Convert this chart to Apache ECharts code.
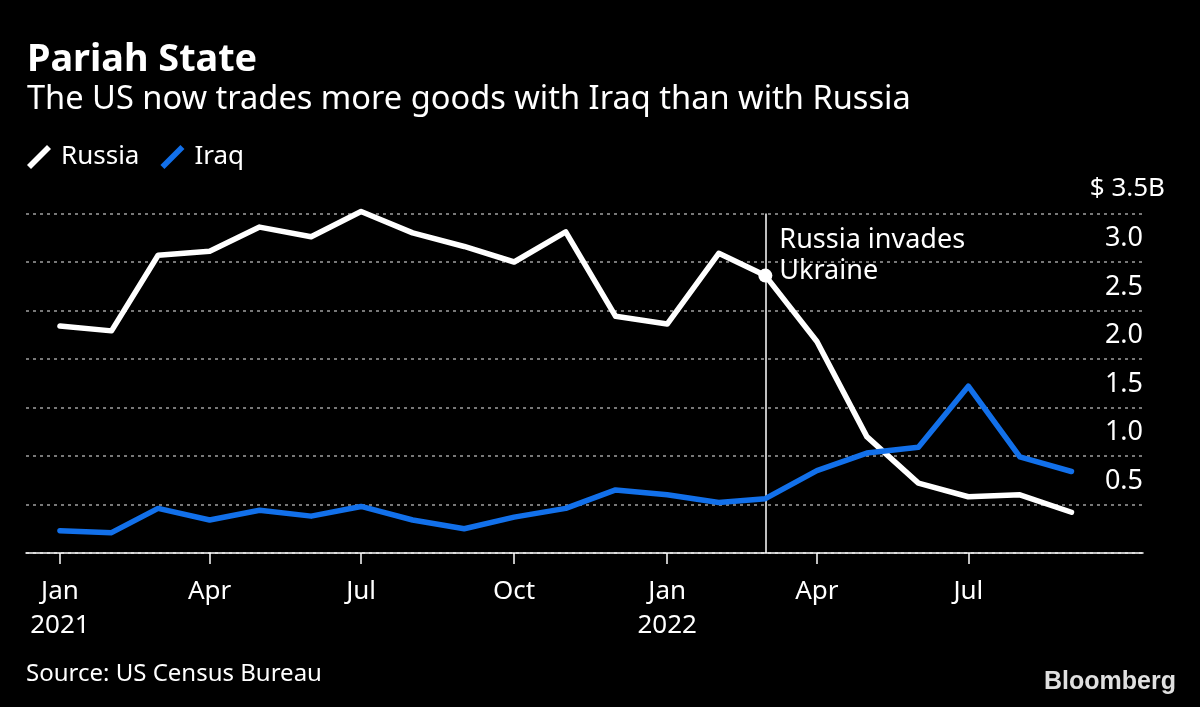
<!DOCTYPE html>
<html><head><meta charset="utf-8">
<style>html,body{margin:0;padding:0;background:#000}#c{width:1200px;height:707px}</style>
<script src="https://cdn.jsdelivr.net/npm/echarts@6/dist/echarts.min.js"></script>
</head><body><div id="c"></div>
<script>
const months = ['2021-01','2021-02','2021-03','2021-04','2021-05','2021-06','2021-07','2021-08','2021-09','2021-10','2021-11','2021-12','2022-01','2022-02','2022-03','2022-04','2022-05','2022-06','2022-07','2022-08','2022-09'];
const russia = [2.34,2.29,3.07,3.11,3.36,3.26,3.52,3.30,3.16,3.00,3.31,2.44,2.36,3.09,2.86,2.18,1.20,0.72,0.58,0.60,0.42];
const iraq = [0.23,0.21,0.46,0.34,0.44,0.38,0.48,0.34,0.25,0.37,0.46,0.65,0.60,0.52,0.56,0.85,1.03,1.09,1.72,0.99,0.84];
const xTickMonths = ['2021-01','2021-04','2021-07','2021-10','2022-01','2022-04','2022-07'];
const xTickLabels = ['Jan\n2021','Apr','Jul','Oct','Jan\n2022','Apr','Jul'];
const yTicks = [0.5,1,1.5,2,2.5,3];
const eventMonth = '2022-03';
const FONT = '"Noto Sans", sans-serif';
const toDay = m => { const [y, mo] = m.split('-').map(Number); return Math.round((Date.UTC(y, mo - 1, 1) - Date.UTC(2021, 0, 1)) / 86400000); };
const tickDays = xTickMonths.map(toDay);
const slash = 'path://M0 20 L20 0 L24 4 L4 24 Z';
const chart = echarts.init(document.getElementById('c'), null, {renderer: 'canvas'});
chart.setOption({
  animation: false,
  backgroundColor: '#000',
  textStyle: {fontFamily: FONT, color: '#fff'},
  title: [
    {text: 'Pariah State', left: 27, top: 41, padding: 0, textStyle: {color: '#fff', fontFamily: FONT, fontSize: 37.8, fontWeight: 'bold'}},
    {text: 'The US now trades more goods with Iraq than with Russia', left: 27, top: 83, padding: 0, textStyle: {color: '#fff', fontFamily: FONT, fontSize: 32.6, fontWeight: 'normal'}},
    {text: 'Source: US Census Bureau', left: 26, top: 662, padding: 0, textStyle: {color: '#fff', fontFamily: FONT, fontSize: 24, fontWeight: 'normal'}},
    {text: 'Bloomberg', left: 1044, top: 670, padding: 0, textStyle: {color: '#e0e0e0', fontFamily: '"Liberation Sans", sans-serif', fontSize: 25, fontWeight: 'bold'}}
  ],
  legend: {
    left: 27, top: 144, padding: 0, itemWidth: 24, itemHeight: 24, itemGap: 21,
    textStyle: {color: '#fff', fontFamily: FONT, fontSize: 26, padding: [0, 0, 0, 5]},
    data: [{name: 'Russia', icon: slash}, {name: 'Iraq', icon: slash}]
  },
  grid: {left: 26, right: 57, top: 213.5, bottom: 154},
  xAxis: {
    type: 'value', min: -20.4, max: 651,
    axisLine: {show: true, onZero: false, lineStyle: {color: '#fff', width: 1.5}},
    axisTick: {show: true, length: 11, customValues: tickDays, lineStyle: {color: '#fff', width: 1.5}},
    axisLabel: {
      show: true, customValues: tickDays, hideOverlap: false, margin: 22, color: '#fff', fontFamily: FONT, fontSize: 26, lineHeight: 34,
      formatter: v => xTickLabels[tickDays.indexOf(v)] ?? ''
    },
    splitLine: {show: false}
  },
  yAxis: {
    type: 'value', position: 'right', min: 0, max: 3.5, interval: 0.5,
    axisLine: {show: false}, axisTick: {show: false},
    axisLabel: {
      inside: true, margin: 0, customValues: yTicks, color: '#fff', fontFamily: FONT, fontSize: 27, verticalAlign: 'bottom', padding: [0, 0, 10, 0],
      formatter: v => v.toFixed(1)
    },
    splitLine: {show: true, lineStyle: {color: '#a0a0a0', width: 1.5, type: [3, 4]}}
  },
  graphic: [
    {type: 'text', right: 35, top: 176, style: {text: '$ 3.5B', fill: '#fff', font: '26px ' + FONT}},
    {type: 'rect', shape: {x: 1104, y: 502, width: 40, height: 6}, style: {fill: '#000'}, z: 0}
  ],
  series: [
    {
      name: 'Russia', type: 'line', color: '#fff', showSymbol: false, clip: false, z: 4,
      lineStyle: {color: '#fff', width: 5.5, cap: 'round', join: 'round'},
      data: months.map((m, i) => [toDay(m), russia[i]]),
      markLine: {
        silent: true, symbol: 'none', animation: false,
        lineStyle: {color: '#fff', width: 1.5, type: 'solid'}, label: {show: false},
        data: [{xAxis: toDay(eventMonth)}]
      },
      markPoint: {
        silent: true, symbol: 'circle', symbolSize: 14, itemStyle: {color: '#fff'},
        label: {show: true, position: [21, -44], formatter: 'Russia invades\nUkraine', color: '#fff', fontFamily: FONT, fontSize: 27, lineHeight: 31, align: 'left', verticalAlign: 'top'},
        data: [{coord: [toDay(eventMonth), russia[months.indexOf(eventMonth)]]}]
      }
    },
    {
      name: 'Iraq', type: 'line', color: '#1270ea', showSymbol: false, clip: false, z: 5,
      lineStyle: {color: '#1270ea', width: 5.5, cap: 'round', join: 'round'},
      data: months.map((m, i) => [toDay(m), iraq[i]])
    }
  ]
});
</script></body></html>
